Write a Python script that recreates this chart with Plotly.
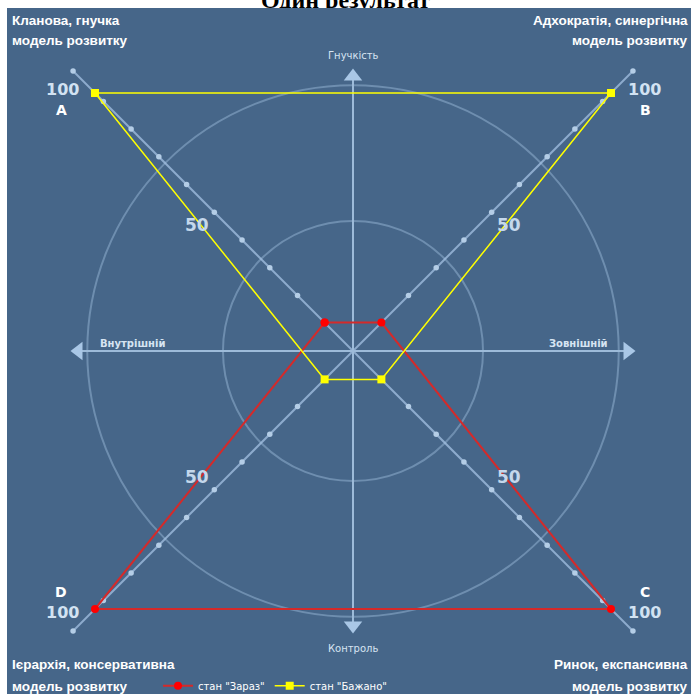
import plotly.graph_objects as go

# ---------------- data ----------------
axes_names = ["A", "B", "C", "D"]
current_values = [11, 11, 100, 100]   # стан "Зараз"
desired_values = [100, 100, 11, 11]   # стан "Бажано"
series_names = ['стан "Зараз"', 'стан "Бажано"']
tick_labels = ["50", "100"]
corner_titles = [["Кланова, гнучка", "модель розвитку"],
                 ["Адхократія, синергічна", "модель розвитку"],
                 ["Ринок, експансивна", "модель розвитку"],
                 ["Ієрархія, консервативна", "модель розвитку"]]
dir_labels = ["Гнучкість", "Контроль", "Внутрішній", "Зовнішній"]
title_text = "Один результат"

# ---------------- geometry / style ----------------
W, H = 691, 694
PX = 2.58                 # pixels per unit
CX, CY = 353, 351         # centre in pixels
directions = {"A": (-1, 1), "B": (1, 1), "C": (1, -1), "D": (-1, -1)}
DIAG_END = 108.5
DOT_STEP = 10.75
CIRCLES = [50.4, 103.0]
ARROW_TIP = 109.5
BG = "#466689"
LINE_LIGHT = "#9dbbd9"

xr = [-CX / PX, (W - CX) / PX]
yr = [-(H - CY) / PX, CY / PX]


def pos(axis, v):
    dx, dy = directions[axis]
    return dx * v, dy * v


fig = go.Figure()

# diagonal scale lines with dots
for a in axes_names:
    ex, ey = pos(a, DIAG_END)
    fig.add_trace(go.Scatter(x=[0, ex], y=[0, ey], mode="lines",
                             line=dict(color="rgba(165,195,228,0.75)", width=2),
                             hoverinfo="skip", showlegend=False))
    ks = [DOT_STEP * k for k in range(1, 10)] + [DIAG_END]
    fig.add_trace(go.Scatter(x=[pos(a, k)[0] for k in ks], y=[pos(a, k)[1] for k in ks],
                             mode="markers", marker=dict(color="#b4cde6", size=5.5),
                             hoverinfo="skip", showlegend=False))

# cross axes with arrows
arrow_c = ARROW_TIP - 8 / PX
fig.add_trace(go.Scatter(x=[-arrow_c, arrow_c], y=[0, 0], mode="lines",
                         line=dict(color=LINE_LIGHT, width=2), hoverinfo="skip", showlegend=False))
fig.add_trace(go.Scatter(x=[0, 0], y=[-arrow_c, arrow_c], mode="lines",
                         line=dict(color=LINE_LIGHT, width=2), hoverinfo="skip", showlegend=False))
fig.add_trace(go.Scatter(x=[0, 0, -arrow_c, arrow_c], y=[arrow_c, -arrow_c, 0, 0], mode="markers",
                         marker=dict(symbol=["triangle-up", "triangle-down", "triangle-left", "triangle-right"],
                                     size=16, color="#a9c7e6", line=dict(width=0)),
                         hoverinfo="skip", showlegend=False))

# series
def closed(vals):
    xs = [pos(a, v)[0] for a, v in zip(axes_names, vals)]
    ys = [pos(a, v)[1] for a, v in zip(axes_names, vals)]
    return xs + xs[:1], ys + ys[:1]

cx_, cy_ = closed(current_values)
fig.add_trace(go.Scatter(x=cx_, y=cy_, mode="lines+markers", name=series_names[0],
                         line=dict(color="#d42a2a", width=2),
                         marker=dict(color="#ff0000", size=8, symbol="circle")))
dx_, dy_ = closed(desired_values)
fig.add_trace(go.Scatter(x=dx_, y=dy_, mode="lines+markers", name=series_names[1],
                         line=dict(color="#ffff00", width=1.5),
                         marker=dict(color="#ffff00", size=8, symbol="square")))

shapes = []
# title (partially hidden under the background)
shapes.append(dict(type="rect", xref="paper", yref="paper", x0=0, x1=1,
                   y0=1 - 10 / H, y1=1.05, line=dict(width=0), fillcolor="rgba(0,0,0,0)",
                   layer="below",
                   label=dict(text="<b>" + title_text + "</b>", textposition="bottom center",
                              yanchor="bottom", padding=0,
                              font=dict(family="Liberation Serif", size=24, color="black"))))
shapes.append(dict(type="rect", xref="paper", yref="paper", x0=7 / W, x1=1,
                   y0=0, y1=1 - 8 / H, line=dict(width=0), fillcolor=BG, layer="below"))
for r in CIRCLES:
    shapes.append(dict(type="circle", xref="x", yref="y", x0=-r, x1=r, y0=-r, y1=r,
                       line=dict(color="rgba(160,190,222,0.45)", width=2), layer="below"))

ann = []
lab_font = dict(family="DejaVu Sans", size=10, color="#d6e4f2")
ann.append(dict(x=0, y=ARROW_TIP, text=dir_labels[0], showarrow=False, yshift=12.5, font=lab_font))
ann.append(dict(x=0, y=-ARROW_TIP, text=dir_labels[1], showarrow=False, yshift=-14.5, font=lab_font))
ann.append(dict(x=-ARROW_TIP, y=0, text=dir_labels[2], showarrow=False, xshift=62, yshift=8,
                font=dict(family="DejaVu Sans", size=10, color="#d6e4f2", weight="bold")))
ann.append(dict(x=ARROW_TIP, y=0, text=dir_labels[3], showarrow=False, xshift=-57, yshift=8,
                font=dict(family="DejaVu Sans", size=10, color="#d6e4f2", weight="bold")))

num_font = dict(family="Verdana, DejaVu Sans", size=16, color="#d2e2f2", weight="bold")
let_font = dict(family="DejaVu Sans", size=14, color="white", weight="bold")
side = {"A": (-1, 1), "B": (1, 1), "C": (1, -1), "D": (-1, -1)}
for a in axes_names:
    sx, sy = side[a]
    x5, y5 = pos(a, 50)
    ann.append(dict(x=x5, y=y5, text=tick_labels[0], showarrow=False,
                    xshift=sx * 27, yshift=-sy * 3,
                    font=dict(family="Verdana, DejaVu Sans", size=17, color="#c4d8ec", weight="bold")))
    x1, y1 = pos(a, 100)
    ann.append(dict(x=x1, y=y1, text=tick_labels[1], showarrow=False,
                    xshift=sx * 33, yshift=(4 if sy > 0 else -3), font=num_font))
    ann.append(dict(x=x1, y=y1, text=a, showarrow=False,
                    xshift=sx * 34, yshift=(-17 if sy > 0 else 17), font=let_font))

corner_font = dict(family="Liberation Sans Narrow, Arial Narrow, Liberation Sans, sans-serif",
                   size=13.5, color="white", weight="bold")
line_y = {"top": [21, 40], "bottom": [664, 686]}
corner_cfg = [(10 / W, "left", "top"), (1 - 1 / W, "right", "top"),
              (1 - 1 / W, "right", "bottom"), (10 / W, "left", "bottom")]
for lines, (x, xa, vpos) in zip(corner_titles, corner_cfg):
    for t, py in zip(lines, line_y[vpos]):
        ann.append(dict(xref="paper", yref="paper", x=x, y=1 - py / H, text=t, showarrow=False,
                        xanchor=xa, yanchor="middle", font=corner_font))

fig.update_layout(
    width=W, height=H, margin=dict(l=0, r=0, t=0, b=0, autoexpand=False),
    paper_bgcolor="white", plot_bgcolor="rgba(0,0,0,0)",
    xaxis=dict(range=xr, visible=False, fixedrange=True),
    yaxis=dict(range=yr, visible=False, fixedrange=True),
    shapes=shapes, annotations=ann,
    showlegend=True,
    legend=dict(orientation="h", x=158 / W, y=-0.009, xanchor="left", yanchor="bottom",
                bgcolor="rgba(0,0,0,0)", font=dict(family="DejaVu Sans", size=10, color="white"),
                itemwidth=30),
)

fig.write_html("out.html", config={"displayModeBar": False},
               post_script="document.body.style.margin='0';document.body.style.overflow='hidden';")
